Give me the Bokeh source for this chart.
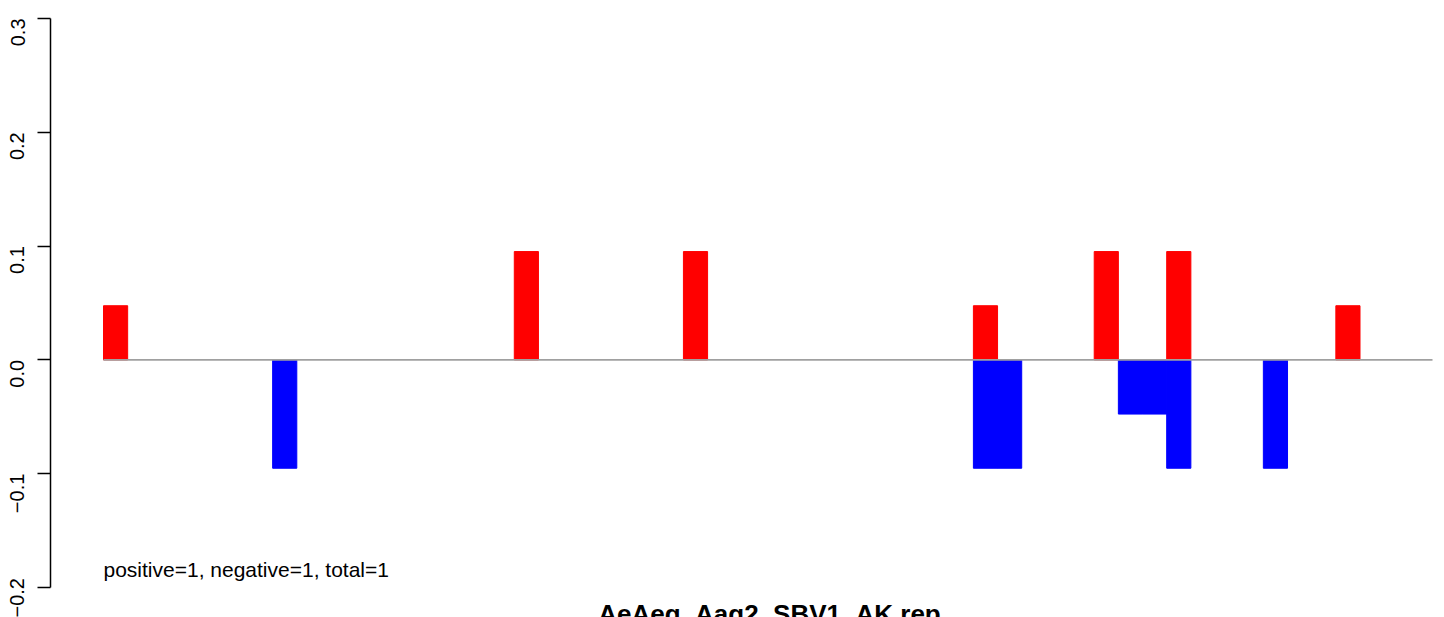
import math
from bokeh.plotting import figure
from bokeh.models import ColumnDataSource, FixedTicker, CustomJSTickFormatter, Label, Range1d
from bokeh.embed import file_html
from bokeh.resources import INLINE

# ---- data ----
n_bins = 55
pos_bins = [0, 17, 24, 36, 41, 44, 51]
pos_vals = [0.0476, 0.0952, 0.0952, 0.0476, 0.0952, 0.0952, 0.0476]
neg_bins = [7, 36, 37, 42, 43, 44, 48]
neg_vals = [-0.0952, -0.0952, -0.0952, -0.0476, -0.0476, -0.0952, -0.0952]
y_ticks = [-0.2, -0.1, 0.0, 0.1, 0.2, 0.3]
title_text = "AeAeg_Aag2_SBV1_AK.rep"
note_text = "positive=1, negative=1, total=1"

# ---- layout (pixels) ----
W, H = 1444, 617
frame_left, frame_top = 50, 18
bin0_px, binN_px = 103, 1432
y_top_px, y_bot_px = 18, 587

px_per_bin = (binN_px - bin0_px) / n_bins
x_start = -(bin0_px - frame_left) / px_per_bin
x_end = n_bins + (W - binN_px) / px_per_bin
px_per_unit_y = (y_bot_px - y_top_px) / (y_ticks[-1] - y_ticks[0])
y_start = y_ticks[-1] - (H - frame_top) / px_per_unit_y

p = figure(width=W, height=H, output_backend="svg", toolbar_location=None,
           x_range=Range1d(x_start, x_end), y_range=Range1d(y_start, y_ticks[-1]),
           x_axis_location=None, y_axis_location="left",
           min_border_left=frame_left, min_border_right=0, min_border_top=frame_top, min_border_bottom=0)
p.outline_line_color = None
p.grid.visible = False
p.background_fill_color = "white"
p.border_fill_color = "white"

pos_src = ColumnDataSource(dict(x=[b + 0.5 for b in pos_bins], top=pos_vals))
neg_src = ColumnDataSource(dict(x=[b + 0.5 for b in neg_bins], top=neg_vals))
p.vbar(x="x", top="top", bottom=0, width=1.0, source=pos_src, fill_color="#ff0000",
       line_color="#ff0000", line_width=1.0)
p.vbar(x="x", top="top", bottom=0, width=1.0, source=neg_src, fill_color="#0000ff",
       line_color="#0000ff", line_width=1.0)
p.segment(x0=[0], y0=[0], x1=[n_bins], y1=[0], line_color="#a0a0a0", line_width=1.6)

ax = p.yaxis[0]
ax.bounds = (y_ticks[0], y_ticks[-1])
ax.ticker = FixedTicker(ticks=y_ticks)
ax.formatter = CustomJSTickFormatter(code='return (tick < -1e-9 ? "\u2212" : "") + Math.abs(tick).toFixed(1);')
ax.major_label_orientation = math.pi / 2
ax.major_label_text_font = "Liberation Sans"
ax.major_label_text_font_size = "20px"
ax.major_label_text_color = "black"
ax.major_label_standoff = 20
ax.major_tick_out = 13
ax.major_tick_in = 0
ax.minor_tick_out = 0
ax.minor_tick_in = 0
ax.axis_line_color = "black"
ax.axis_line_width = 1.5
ax.major_tick_line_color = "black"
ax.major_tick_line_width = 1.5

p.add_layout(Label(x=0, y=y_ticks[0], y_offset=18, text=note_text,
                   text_font="Liberation Sans", text_font_size="21px",
                   text_color="black", text_baseline="alphabetic", text_align="left"))

title_center_px = 769
p.add_layout(Label(x=(title_center_px - bin0_px) / px_per_bin, y=y_ticks[0], y_offset=-26,
                   text=title_text,
                   text_font="Liberation Sans", text_font_size="26px", text_font_style="bold",
                   text_color="black", text_baseline="alphabetic", text_align="center"))

open("out.html", "w").write(file_html(p, INLINE))
